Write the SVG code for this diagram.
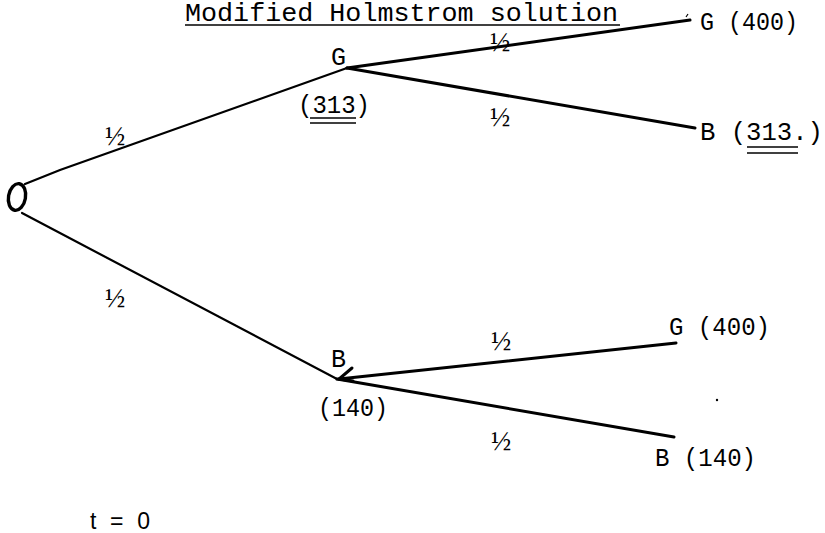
<svg xmlns="http://www.w3.org/2000/svg" width="825" height="533" viewBox="0 0 825 533">
<style>
.lbl{font-family:"Liberation Mono","DejaVu Sans Mono",monospace;font-size:25px;fill:#000}
.frac{font-family:"Liberation Serif","DejaVu Serif",serif;font-size:27px;fill:#000;text-anchor:middle}
.edge{stroke:#000;stroke-width:3;fill:none;stroke-linecap:round}
.thin{stroke:#000;stroke-width:2.2;fill:none;stroke-linecap:round}
.ul{stroke:#000;stroke-width:1.4}
</style>
<rect width="825" height="533" fill="#fff"/>
<g id="title">
<text class="lbl" x="185" y="21" font-size="18" textLength="433" lengthAdjust="spacingAndGlyphs">Modified Holmstrom solution</text>
<line class="ul" x1="185" y1="25" x2="620" y2="25"/>
</g>
<g id="connectors">
<path class="thin" d="M25,184 L60,170 L347,68"/>
<path class="thin" d="M22,213 L337,379"/>
<path class="edge" d="M347,68 L690,20"/>
<path class="edge" d="M347,68 L695,128"/>
<path class="edge" d="M676,343 L339,379"/>
<path class="edge" d="M352,368 L339,379 L353,381"/>
<path class="edge" d="M337,379 L674,437"/>
<line x1="686" y1="17" x2="688" y2="14" stroke="#000" stroke-width="1.2"/>
<text class="frac" x="115" y="145">½</text>
<text class="frac" x="115" y="307">½</text>
<text class="frac" x="500" y="51" font-size="24">½</text>
<text class="frac" x="500" y="126">½</text>
<text class="frac" x="501" y="350">½</text>
<text class="frac" x="501" y="450">½</text>
</g>
<g id="root">
<ellipse cx="17" cy="197" rx="8.5" ry="13.5" fill="none" stroke="#000" stroke-width="3.4" transform="rotate(10 17 197)"/>
</g>
<g id="nodeG">
<text class="lbl" x="331" y="65">G</text>
<text class="lbl" x="298" y="113" textLength="72" lengthAdjust="spacingAndGlyphs">(313)</text>
<line class="ul" x1="310" y1="118" x2="356" y2="118"/>
<line class="ul" x1="310" y1="123" x2="356" y2="123"/>
</g>
<g id="nodeB">
<text class="lbl" x="331" y="367">B</text>
<text class="lbl" x="318" y="416" textLength="70" lengthAdjust="spacingAndGlyphs">(140)</text>
</g>
<g id="leafGG">
<text class="lbl" x="700" y="30" textLength="98" lengthAdjust="spacingAndGlyphs">G (400)</text>
</g>
<g id="leafGB">
<text class="lbl" x="700" y="140" textLength="123" lengthAdjust="spacingAndGlyphs">B (313.)</text>
<line class="ul" x1="747" y1="147" x2="798" y2="147"/>
<line class="ul" x1="747" y1="153" x2="798" y2="153"/>
</g>
<g id="leafBG">
<text class="lbl" x="669" y="335" textLength="101" lengthAdjust="spacingAndGlyphs">G (400)</text>
</g>
<g id="leafBB">
<text class="lbl" x="655" y="466" textLength="101" lengthAdjust="spacingAndGlyphs">B (140)</text>
</g>
<circle cx="717" cy="400" r="1.2" fill="#000"/>
<g id="time">
<text x="90" y="529" font-family="Liberation Sans, Arial, sans-serif" font-size="23" textLength="60" lengthAdjust="spacing">t = 0</text>
</g>
</svg>
